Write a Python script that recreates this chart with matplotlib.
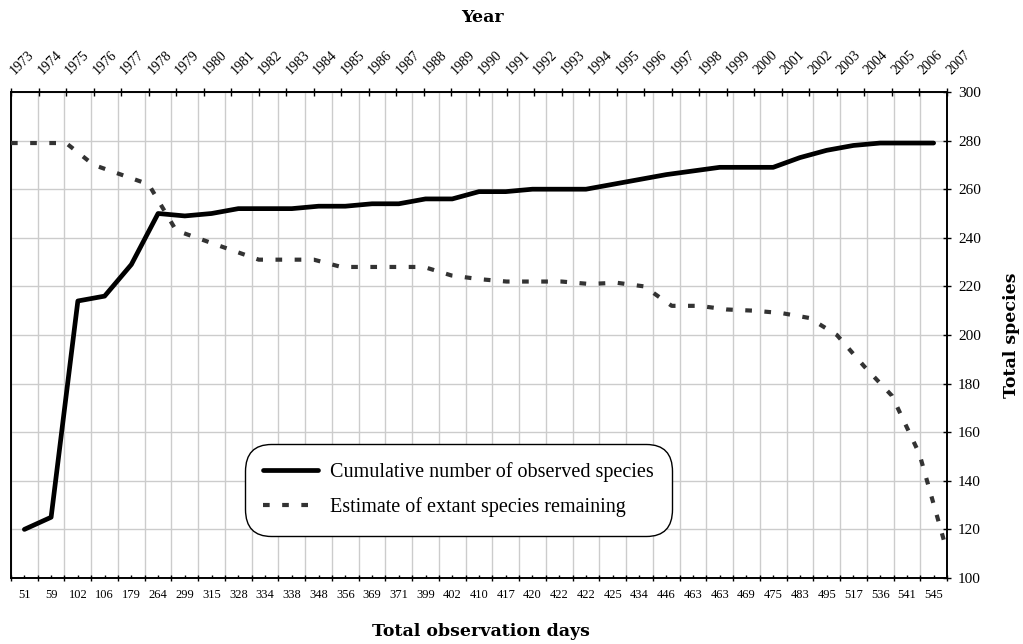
import matplotlib
matplotlib.use('Agg')
import matplotlib.pyplot as plt
from matplotlib.transforms import ScaledTranslation
import numpy as np

plt.rcParams['font.family'] = ['Liberation Serif', 'DejaVu Serif']

# bottom axis: cumulative observation days (category axis)
obs_days = ['51', '59', '102', '106', '179', '264', '299', '315', '328', '334',
            '338', '348', '356', '369', '371', '399', '402', '410', '417', '420',
            '422', '422', '425', '434', '446', '463', '463', '469', '475', '483',
            '495', '517', '536', '541', '545']
observed = [120, 125, 214, 216, 229, 250, 249, 250, 252, 252,
            252, 253, 253, 254, 254, 256, 256, 259, 259, 260,
            260, 260, 262, 264, 266, 267.5, 269, 269, 269, 273,
            276, 278, 279, 279, 279]

# top axis: years
years = list(range(1973, 2008))
remaining = [279, 279, 279, 270, 266, 262, 243, 239, 235, 231,
             231, 231, 228, 228, 228, 228, 224.5, 223, 222, 222,
             222, 221, 221.5, 220, 212, 212, 210.5, 210, 209, 207,
             200, 187, 175, 151, 111]

W, H = 1023, 644
fig = plt.figure(figsize=(W / 100, H / 100), dpi=100)
ax = fig.add_axes([11 / W, (H - 578) / H, 936 / W, 486 / H])

n = len(obs_days)
xc = np.arange(n) + 0.5
line1, = ax.plot(xc, observed, color='black', lw=3.4, solid_capstyle='round',
                 solid_joinstyle='round', zorder=3,
                 label='Cumulative number of observed species')

ax.set_xlim(0, n)
ax.set_ylim(100, 300)
ax.set_xticks(np.arange(n + 1))
ax.set_xticklabels([])
ax.set_xticks(xc, minor=True)
ax.set_xticklabels(obs_days, minor=True, fontsize=9)
ax.tick_params(axis='x', which='major', direction='inout', length=5, width=1)
ax.tick_params(axis='x', which='minor', direction='in', length=2.5, width=1, pad=8)

ax.set_yticks(np.arange(100, 301, 20))
ax.yaxis.tick_right()
ax.tick_params(axis='y', direction='inout', length=6, width=1, labelsize=11, pad=5)

ax.grid(True, which='major', color='#cccccc', lw=1, zorder=0)
ax.set_axisbelow(True)
for s in ax.spines.values():
    s.set_color('black')
    s.set_linewidth(1.2)

ax2 = ax.twiny()
line2, = ax2.plot(years, remaining, color='#333333', lw=3, linestyle=(0, (1.6, 3.0)),
                  dash_capstyle='butt', zorder=3,
                  label='Estimate of extant species remaining')
ax2.set_xlim(1973, 2007)
ax2.set_xticks(years)
ax2.set_xticklabels([])
ax2.tick_params(axis='x', direction='inout', length=6, width=1)
for s in ax2.spines.values():
    s.set_color('black')
    s.set_linewidth(1.2)

# year labels, slanted, starting just above each top tick
shift = ScaledTranslation(4 / 100, 17 / 100, fig.dpi_scale_trans)
for y in years:
    ax2.text(y, 1.0, str(y), transform=ax2.get_xaxis_transform() + shift,
             rotation=45, rotation_mode='anchor', ha='left', va='baseline',
             fontsize=10, clip_on=False)

leg = ax2.legend(handles=[line1, line2], loc='center', bbox_to_anchor=(0.478, 0.181),
                 fontsize=14.5, handlelength=2.75, handletextpad=0.6, borderpad=0.9,
                 labelspacing=0.75, borderaxespad=0, frameon=True, fancybox=True,
                 framealpha=1)
fr = leg.get_frame()
fr.set_boxstyle('round', pad=0, rounding_size=1.3)
fr.set_edgecolor('black')
fr.set_linewidth(1)

title_font = dict(family='DejaVu Serif', fontweight='bold', fontsize=12.5)
fig.text(482 / W, 1 - 18 / H, 'Year', ha='center', va='center', **title_font)
fig.text(481 / W, 1 - 631 / H, 'Total observation days', ha='center', va='center',
         **title_font)
fig.text(1012 / W, 1 - 335 / H, 'Total species', ha='center', va='center',
         rotation=90, **title_font)

fig.savefig('out.png', dpi=100)
